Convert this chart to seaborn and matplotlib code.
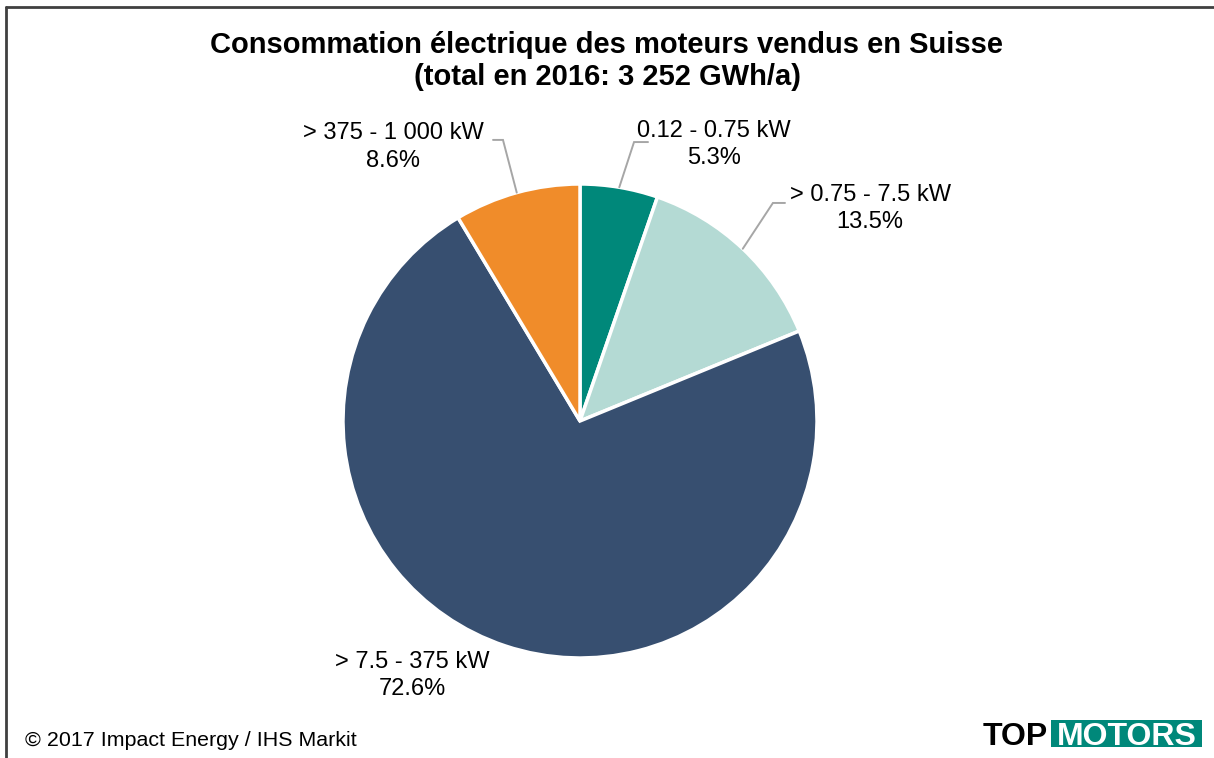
import numpy as np
import matplotlib
matplotlib.use("Agg")
import matplotlib.pyplot as plt
import seaborn as sns
from matplotlib.lines import Line2D
from matplotlib.patches import Rectangle

# data (clockwise from 12 o'clock)
categories = ["0.12 - 0.75 kW", "> 0.75 - 7.5 kW", "> 7.5 - 375 kW", "> 375 - 1 000 kW"]
shares = [5.3, 13.5, 72.6, 8.6]
colors = ["#00887A", "#B4DAD4", "#374F70", "#F08C2A"]

title = "Consommation électrique des moteurs vendus en Suisse\n(total en 2016: 3 252 GWh/a)"
source = "© 2017 Impact Energy / IHS Markit"

# label layout in pie-radius units: (label centre, elbow, end of leader)
label_layout = {
    "0.12 - 0.75 kW": ((0.565, 1.165), (0.228, 1.177), (0.287, 1.177)),
    "> 0.75 - 7.5 kW": ((1.224, 0.895), (0.814, 0.920), (0.865, 0.920)),
    "> 7.5 - 375 kW": ((-0.709, -1.072), None, None),
    "> 375 - 1 000 kW": ((-0.789, 1.156), (-0.325, 1.186), (-0.367, 1.186)),
}

sns.set_theme(style="white")
plt.rcParams["font.family"] = ["Liberation Sans", "DejaVu Sans"]
plt.rcParams["text.color"] = "black"

W, H = 1214, 758
fig = plt.figure(figsize=(W / 100, H / 100), dpi=100)
fig.patch.set_facecolor("white")

# pie centre (580, 421) px, radius 237 px
cx, cy, r = 580, 421, 237
ax = fig.add_axes([(cx - r) / W, (H - cy - r) / H, 2 * r / W, 2 * r / H])
wedges, _ = ax.pie(shares, colors=colors, startangle=90, counterclock=False,
                   wedgeprops=dict(edgecolor="white", linewidth=2.5))
ax.set_xlim(-1, 1)
ax.set_ylim(-1, 1)
ax.set_aspect("equal")
ax.axis("off")

for w, name, val in zip(wedges, categories, shares):
    centre, elbow, end = label_layout[name]
    ax.text(centre[0], centre[1], f"{name}\n{val:.1f}%", ha="center", va="center",
            fontsize=17, color="black", linespacing=1.3, clip_on=False)
    if elbow is not None:
        mid = np.deg2rad((w.theta1 + w.theta2) / 2)
        ax.plot([np.cos(mid), elbow[0], end[0]], [np.sin(mid), elbow[1], end[1]],
                color="#A6A6A6", lw=1.4, clip_on=False, solid_joinstyle="miter")

fig.text(0.5, 1 - 61 / H, title, ha="center", va="center", fontsize=21,
         fontweight="bold", linespacing=1.15, color="black")
fig.text(25 / W, 1 - 740 / H, source, ha="left", va="center", fontsize=15.4,
         color="black")

# logo
fig.text(983 / W, 1 - 745 / H, "TOP", ha="left", va="baseline", fontsize=23,
         fontweight="bold", color="black")
fig.patches.append(Rectangle((1051 / W, 1 - 747 / H), 151 / W, 27 / H,
                             transform=fig.transFigure, facecolor="#00887A",
                             edgecolor="none"))
fig.text(1126.5 / W, 1 - 745 / H, "MOTORS", ha="center", va="baseline", fontsize=23,
         fontweight="bold", color="white")

# frame (top and left)
fig.add_artist(Line2D([6 / W, 1], [1 - 7 / H, 1 - 7 / H], color="#404040", lw=2,
                      transform=fig.transFigure))
fig.add_artist(Line2D([6 / W, 6 / W], [0, 1 - 7 / H], color="#404040", lw=2,
                      transform=fig.transFigure))

fig.savefig("out.png", dpi=100)
